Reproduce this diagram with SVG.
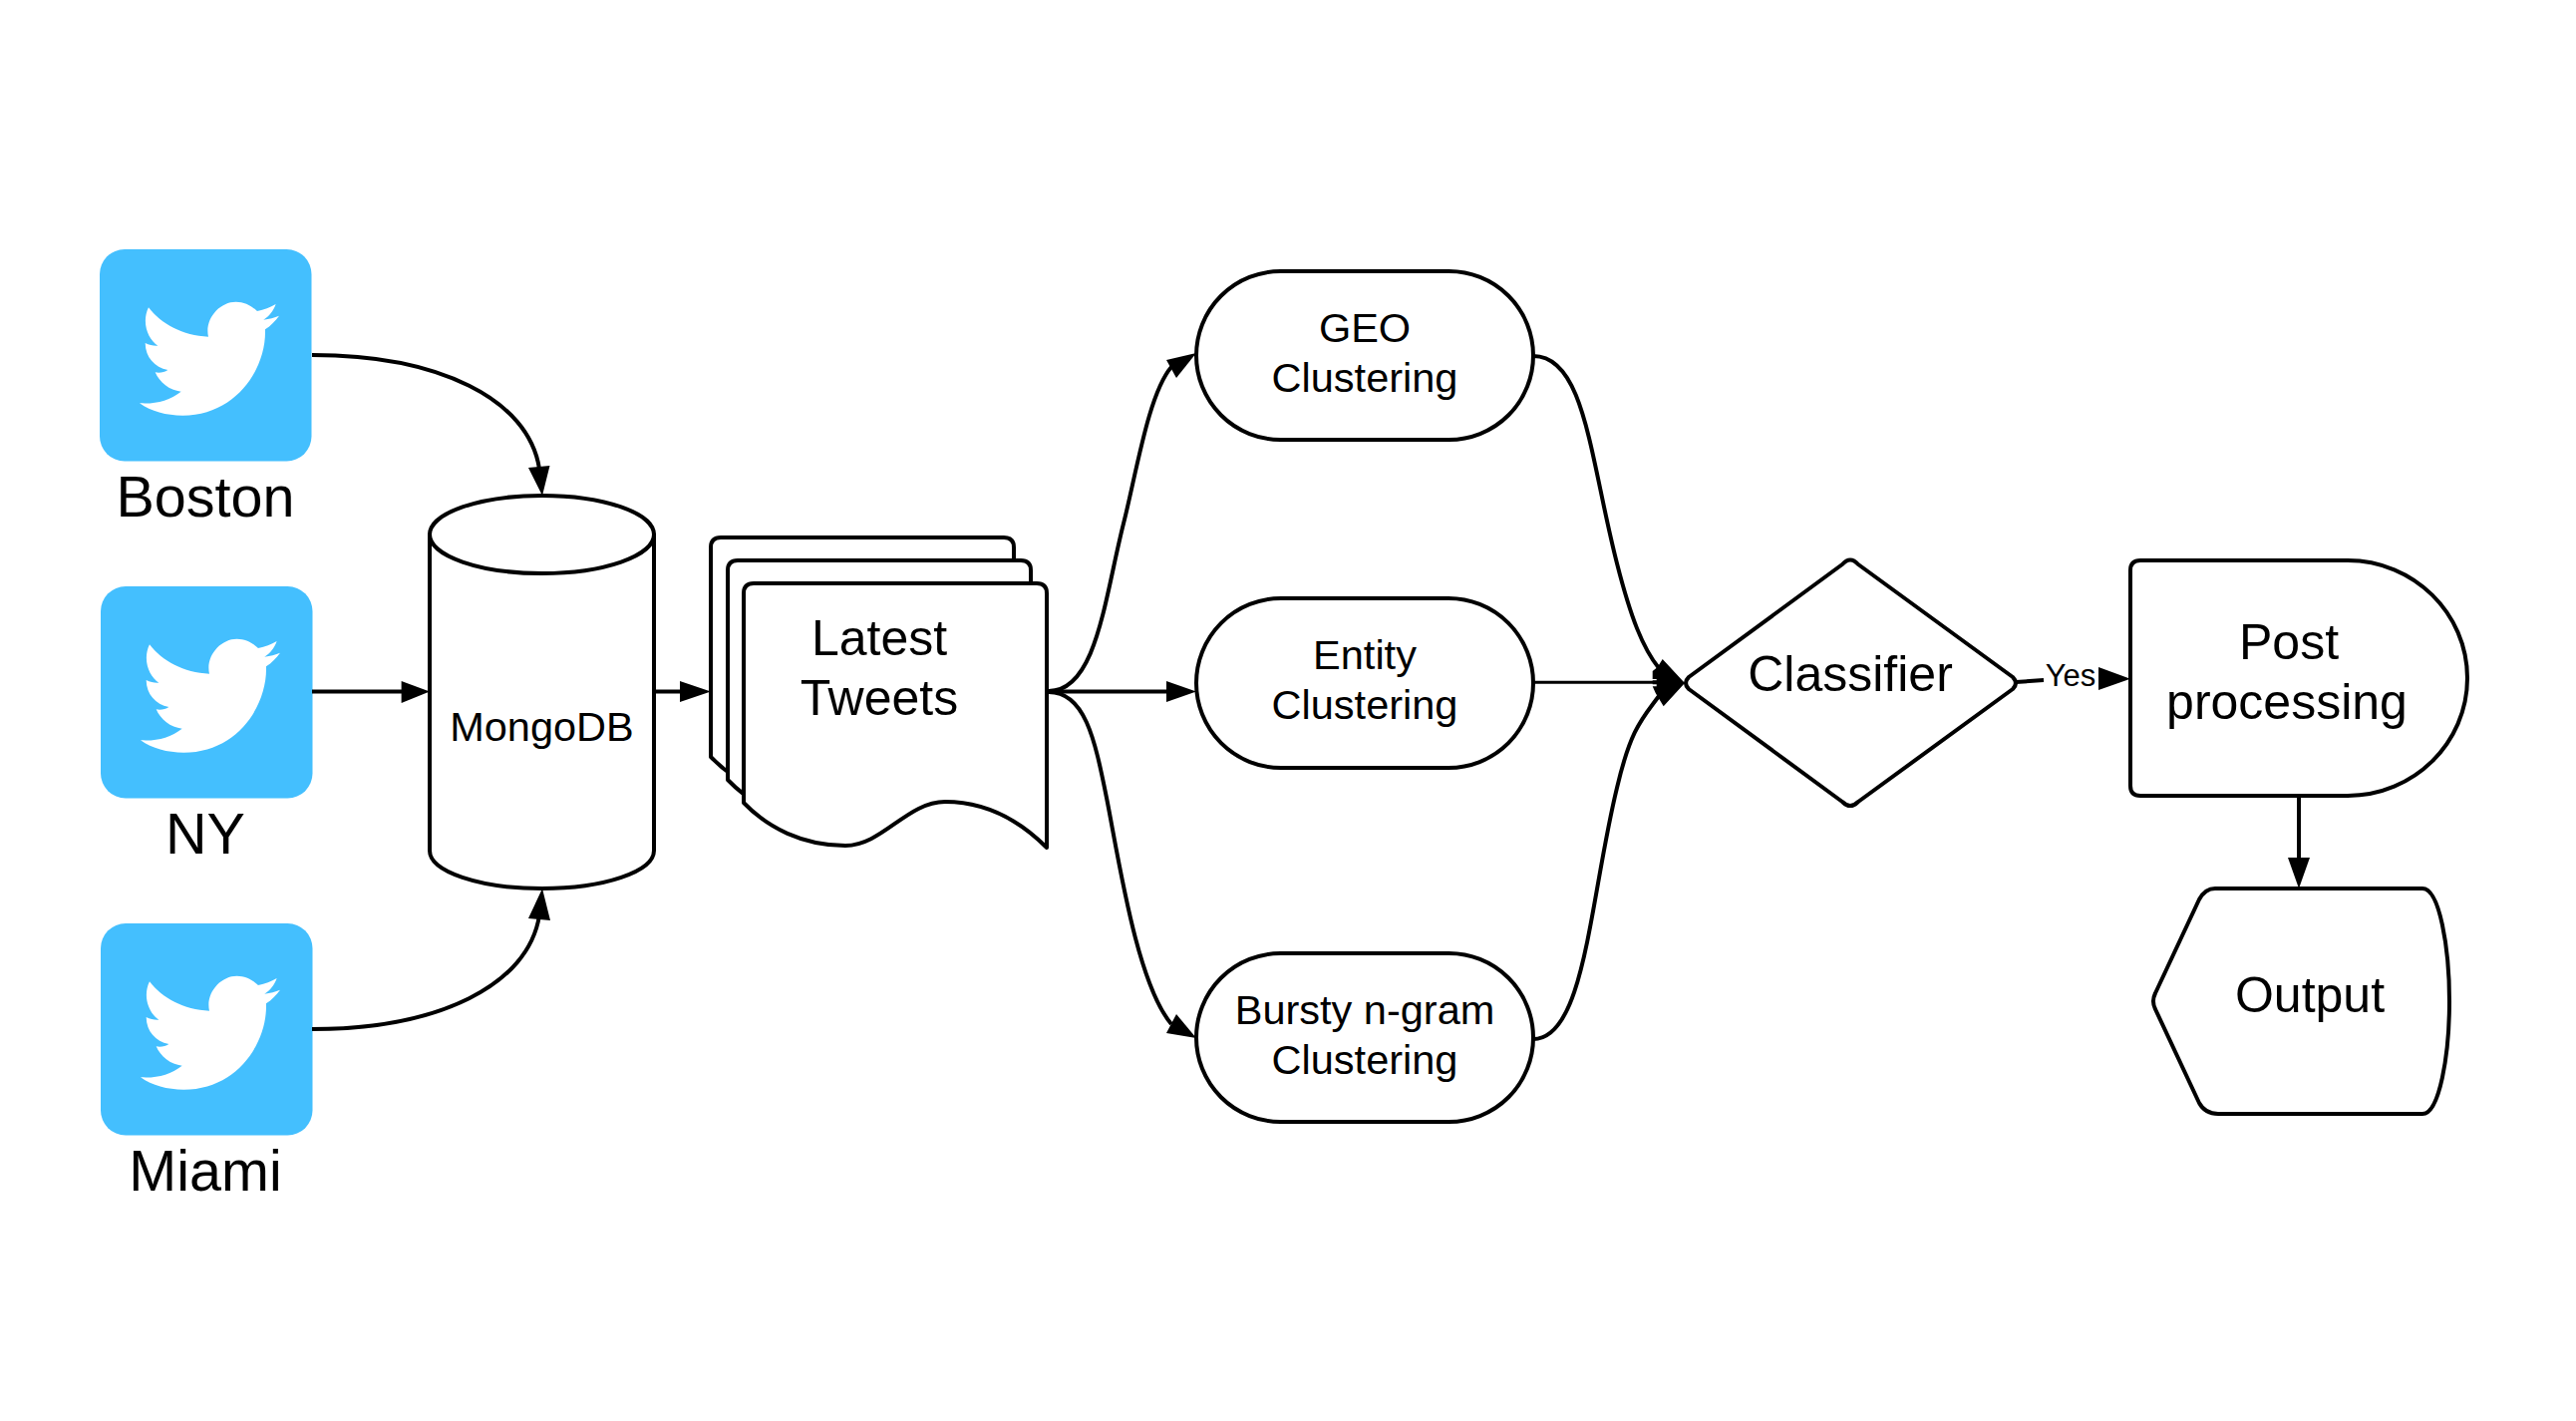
<svg xmlns="http://www.w3.org/2000/svg" width="2584" height="1425" viewBox="0 0 2584 1425">
<style>
text{font-family:"Liberation Sans",Arial,sans-serif;fill:#000;text-anchor:middle}
.s{fill:#fff;stroke:#000;stroke-width:4;stroke-linejoin:round}
.c{fill:none;stroke:#000;stroke-width:4}
.h{fill:#000;stroke:none}
.t57{font-size:57.500px}.t50{font-size:50px}.t41{font-size:41.500px}.t31{font-size:31px}
</style>
<defs>
<g id="tw">
<rect width="212.500" height="212.500" rx="25" fill="#44bffe"/>
<path transform="translate(20 20) scale(.3333)" fill="#fff" d="M60 403C110 406 150 395 185 368C150 365 120 340 107 310C120 313 135 310 145 303C105 295 78 265 77 222C90 228 102 231 115 230C85 210 65 160 87 115C125 165 190 200 267 203C255 150 300 98 350 98C375 98 398 110 414 126C435 122 453 115 470 105C463 125 450 142 433 152C450 150 466 146 480 140C469 155 455 170 438 181C442 300 350 440 190 440C140 440 95 428 60 403Z"/>
</g>
<path id="doc" class="s" d="M746 805V595Q746 585 756 585H1040Q1050 585 1050 595V850C1020 820 985 804 948 804C910 804 885 848 848 848C805 848 770 830 746 805Z"/>
</defs>
<rect width="2584" height="1425" fill="#fff"/>
<g id="boston"><use href="#tw" x="100" y="250"/><text class="t57" x="206" y="518">Boston</text></g>
<g id="ny"><use href="#tw" x="101" y="588"/><text class="t57" x="206" y="856">NY</text></g>
<g id="miami"><use href="#tw" x="101" y="926"/><text class="t57" x="206" y="1194">Miami</text></g>
<g id="mongodb">
<path class="s" d="M431 536V853C431 874 481 891 543.500 891S656 874 656 853V536Z"/>
<ellipse class="s" cx="543.500" cy="536" rx="112.500" ry="39"/>
<text class="t41" x="543.500" y="743">MongoDB</text>
</g>
<g id="latest-tweets">
<use href="#doc" x="-33" y="-46"/>
<use href="#doc" x="-16" y="-23"/>
<use href="#doc"/>
<text class="t50" x="882" y="657">Latest</text>
<text class="t50" x="882" y="717">Tweets</text>
</g>
<g id="geo"><rect class="s" x="1200" y="272" width="338" height="169" rx="84.500"/><text class="t41" x="1369" y="343">GEO</text><text class="t41" x="1369" y="393">Clustering</text></g>
<g id="entity"><rect class="s" x="1200" y="600" width="338" height="170" rx="85"/><text class="t41" x="1369" y="671">Entity</text><text class="t41" x="1369" y="721">Clustering</text></g>
<g id="bursty"><rect class="s" x="1200" y="956" width="338" height="169" rx="84.500"/><text class="t41" x="1369" y="1027">Bursty n-gram</text><text class="t41" x="1369" y="1077">Clustering</text></g>
<g id="classifier"><path class="s" d="M1848 566Q1856 557 1864 566L2019 679Q2025 685 2019 691L1864 804Q1856 812 1848 804L1694 691Q1688 685 1694 679Z"/><text class="t50" x="1856" y="693">Classifier</text></g>
<g id="post"><path class="s" d="M2147 562H2355C2421 562 2475 615 2475 680S2421 798 2355 798H2147Q2137 798 2137 788V572Q2137 562 2147 562Z"/><text class="t50" x="2296" y="661">Post</text><text class="t50" x="2294" y="721">processing</text></g>
<g id="output"><path class="s" d="M2222 891H2430C2447 891 2457 950 2457 1004S2447 1117 2430 1117H2225Q2212 1117 2206 1106L2162 1012Q2158 1004 2162 996L2206 902Q2212 891 2222 891Z"/><text class="t50" x="2317" y="1015">Output</text></g>
<g id="connectors">
<path class="c" d="M313 356C440 356 530 400 541 470"/><path class="h" d="M544 497L530 469L551.500 467Z"/>
<path class="c" d="M313 693.500H410"/><path class="h" d="M431 693.500L402.600 683V705Z"/>
<path class="c" d="M313 1032C440 1032 530 988 541 918"/><path class="h" d="M544 891L530 921L552 923Z"/>
<path class="c" d="M656 693.500H690"/><path class="h" d="M713 693.500L682 683V704Z"/>
<path class="c" d="M1052 693C1100 693 1108 600 1127 525C1140 474 1152 395 1175 368"/><path class="h" d="M1200 354L1170 361L1180 379Z"/>
<path class="c" d="M1052 693.500H1180"/><path class="h" d="M1200 693.500L1170 683V704Z"/>
<path class="c" d="M1052 694C1088 694 1098 740 1110 800C1122 860 1140 985 1175 1027"/><path class="h" d="M1200 1041L1180 1017L1170 1036Z"/>
<path class="c" d="M1538 357C1590 357 1595 460 1622 565C1636 620 1648 650 1664 670"/>
<path class="c" d="M1538 684.300H1665" style="stroke-width:3"/>
<path class="c" d="M1538 1042C1590 1042 1595 900 1622 790C1636 730 1648 720 1664 698"/>
<path class="h" d="M1667.700 661L1690 685L1668.700 708.300L1660.700 695L1657.700 688.300H1661.700V686.300H1657.700V682.300H1661.700V681H1657.700V673L1662.700 669Z"/>
<path class="c" d="M2022 684L2050 682"/><path class="h" d="M2137 680.700L2105 669V692Z"/>
<text class="t31" x="2077" y="688">Yes</text>
<path class="c" d="M2306 798V870"/><path class="h" d="M2306 891L2295 860H2317Z"/>
</g>
</svg>
